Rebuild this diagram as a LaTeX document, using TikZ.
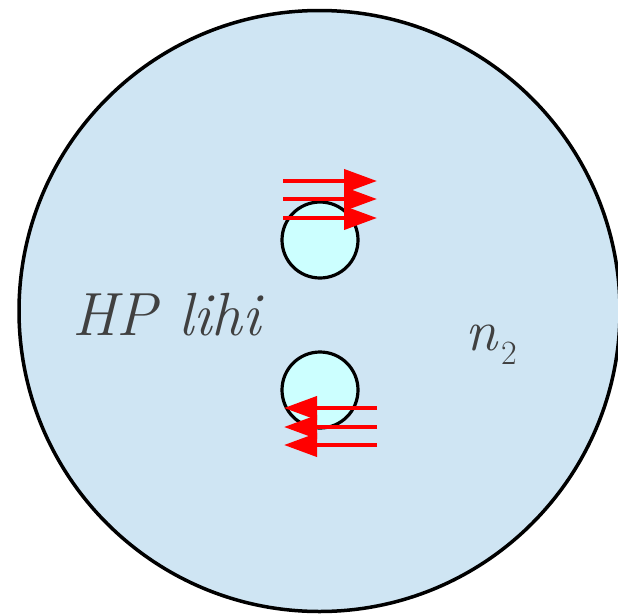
\documentclass[tikz,border=0pt]{standalone}
\usepackage{fontspec}
\usetikzlibrary{arrows.meta}
\definecolor{bigfill}{RGB}{207,229,243}
\definecolor{holefill}{RGB}{204,255,255}
\definecolor{labelgray}{RGB}{64,64,64}
\begin{document}
\begin{tikzpicture}[x=1pt, y=-1pt,
  flow/.style={red, line width=4pt, -{Triangle[length=33pt,width=23pt]}},
  hole/.style={circle, draw, line width=3.2pt, fill=holefill, minimum size=76pt, inner sep=0pt},
  lbl/.style={anchor=base west, inner sep=0pt, text=labelgray}]
  \useasboundingbox (0,0) rectangle (618,613);
  \clip (0,0) rectangle (618,613);
  % Big circle
  \node[circle, draw, line width=3.5pt, fill=bigfill, minimum size=601pt, inner sep=0pt] (disk) at (319.5,311) {};
  % Holes
  \node[hole] (upper) at (320,240) {};
  \node[hole] (lower) at (320,390) {};
  % Arrows
  \foreach \i/\y in {1/181, 2/199, 3/218}{
    \coordinate (ts\i) at (283,\y);
    \coordinate (te\i) at (377,\y);
    \draw[flow] (ts\i) -- (te\i);
  }
  \foreach \i/\y in {1/408, 2/427, 3/445}{
    \coordinate (bs\i) at (377,\y);
    \coordinate (be\i) at (284,\y);
    \draw[flow] (bs\i) -- (be\i);
  }
  % Labels
  \node[lbl, font=\itshape\fontsize{61}{61}\selectfont] (hp) at (72,335) {HP lihi};
  \node[lbl, font=\fontsize{58}{58}\selectfont] (index) at (465,350)
    {\itshape n\kern4pt\raisebox{-14pt}{\upshape\fontsize{34}{34}\selectfont 2}};
\end{tikzpicture}
\end{document}
